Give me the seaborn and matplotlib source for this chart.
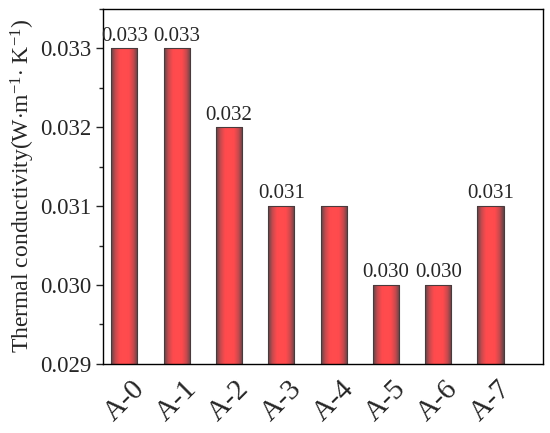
import numpy as np
import pandas as pd
import seaborn as sns
import matplotlib
matplotlib.use('Agg')
import matplotlib.pyplot as plt
from matplotlib.colors import LinearSegmentedColormap
from matplotlib.ticker import MultipleLocator, FormatStrFormatter

samples = ['A-0', 'A-1', 'A-2', 'A-3', 'A-4', 'A-5', 'A-6', 'A-7']
conductivity = [0.033, 0.033, 0.032, 0.031, 0.031, 0.030, 0.030, 0.031]
bar_labels = ['0.033', '0.033', '0.032', '0.031', '', '0.030', '0.030', '0.031']

df = pd.DataFrame({'sample': samples, 'k': conductivity})

sns.set_style('ticks')
plt.rcParams['font.family'] = ['Liberation Serif', 'DejaVu Serif']
plt.rcParams['mathtext.fontset'] = 'custom'
plt.rcParams['mathtext.rm'] = 'Liberation Serif'
plt.rcParams['mathtext.it'] = 'Liberation Serif:italic'

fig, ax = plt.subplots(figsize=(5.5, 4.33), dpi=100)
fig.subplots_adjust(left=0.188, right=0.987, top=0.979, bottom=0.16)

sns.barplot(data=df, x='sample', y='k', color='#ff4c4c', width=0.5,
            edgecolor='#4a3a3c', linewidth=0.8, ax=ax)

ymin, ymax = 0.029, 0.0335

# cylinder-like shading: dark edges, bright middle
cmap = LinearSegmentedColormap.from_list(
    'cyl', ['#5a4548', '#c84a4e', '#ff4a4d', '#ff4c4e', '#ff4a4d', '#c84a4e', '#5a4548'])
grad = np.linspace(0, 1, 256).reshape(1, -1)
for p in ax.patches:
    x0, w, h = p.get_x(), p.get_width(), p.get_height()
    im = ax.imshow(grad, cmap=cmap, aspect='auto', extent=[x0, x0 + w, ymin, h],
                   zorder=p.get_zorder() + 0.1, interpolation='bicubic')
    p.set_facecolor('none')
    p.set_zorder(p.get_zorder() + 0.2)

ax.bar_label(ax.containers[0], labels=bar_labels, padding=2, fontsize=15)

ax.set_xlim(-0.4, 8.0)
ax.set_ylim(ymin, ymax)
ax.yaxis.set_major_locator(MultipleLocator(0.001))
ax.yaxis.set_minor_locator(MultipleLocator(0.0005))
ax.yaxis.set_major_formatter(FormatStrFormatter('%.3f'))
ax.tick_params(axis='y', which='major', direction='out', length=5, width=1, labelsize=16.5)
ax.tick_params(axis='y', which='minor', direction='out', length=3, width=1)
ax.tick_params(axis='x', length=0, labelsize=21, pad=9)
plt.setp(ax.get_xticklabels(), rotation=45, ha='center')

for s in ax.spines.values():
    s.set_visible(True)
    s.set_linewidth(1.0)
    s.set_color('black')

ax.set_xlabel('')
ax.set_ylabel(r'Thermal conductivity(W$\cdot$m$^{-1}$$\cdot$ K$^{-1}$)', fontsize=17, labelpad=2)

fig.savefig('out.png', dpi=100)
